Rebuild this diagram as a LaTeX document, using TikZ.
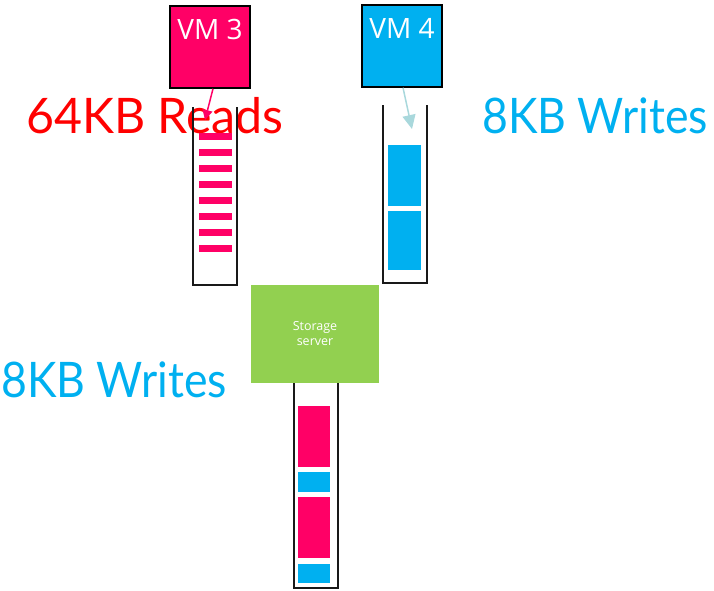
\documentclass[tikz,border=0pt]{standalone}
\usepackage{fontspec}
\setmainfont{Open Sans}
\newfontfamily\labelfont[FakeStretch=0.91]{Lato}
\newfontfamily\widelabelfont[FakeStretch=0.985]{Lato}
\usetikzlibrary{arrows.meta}

\definecolor{vmpink}{HTML}{FF0066}
\definecolor{vmblue}{HTML}{00B0F0}
\definecolor{servergreen}{HTML}{92D050}
\definecolor{readred}{HTML}{FF0000}
\definecolor{arrowteal}{HTML}{A9D8DC}

\def \barHalf {3.5}

\tikzset{
   vmbox/.style={draw=black, line width=1.5pt, minimum width=80pt, minimum height=82pt, inner sep=0pt},
   vmtext/.style={text=white, font=\fontsize{28}{30}\selectfont, anchor=base, inner sep=0pt},
   sizelabel/.style={font=\labelfont\fontsize{49}{52}\selectfont, anchor=base west, inner sep=0pt},
   queue/.style={draw=black!90, line width=2pt},
}

\begin{document}
\begin{tikzpicture}[x=1pt, y=-1pt]
   \useasboundingbox (0,0) rectangle (714,590);

   % request sizes
   \node[sizelabel, text=readred, font=\widelabelfont\fontsize{49}{52}\selectfont] (readlbl) at (26,133) {64KB Reads};
   \node[sizelabel, text=vmblue] (writelbl) at (482,133) {8KB Writes};
   \node[sizelabel, text=vmblue] (serverlbl) at (1,397) {8KB Writes};

   % virtual machines
   \node[vmbox, fill=vmpink] (vm3) at (210,47) {};
   \node[vmtext] (vm3txt) at (210,39) {VM 3};
   \node[vmbox, fill=vmblue] (vm4) at (402,46) {};
   \node[vmtext] (vm4txt) at (402,38) {VM 4};

   % queue of VM 3
   \draw[queue] (193,107) -- (193,285) -- (237,285) -- (237,107);
   \foreach \y in {136,152,...,248}
      \fill[vmpink] (199,\y-\barHalf) rectangle (232,\y+\barHalf);

   % queue of VM 4
   \draw[queue] (383,105) -- (383,283) -- (427,283) -- (427,105);
   \fill[vmblue] (388,145) rectangle (421,206);
   \fill[vmblue] (388,211) rectangle (421,270);

   % storage server
   \node[fill=servergreen, minimum width=128pt, minimum height=98pt, inner sep=0pt,
         text=white, align=center, font=\fontsize{12.5}{15}\selectfont] (server) at (315,334) {Storage\\server};

   % queue at the server
   \draw[queue] (294,383) -- (294,588) -- (338,588) -- (338,383);
   \fill[vmpink] (298,406) rectangle (330,467);
   \fill[vmblue] (298,472) rectangle (330,492);
   \fill[vmpink] (298,497) rectangle (330,558);
   \fill[vmblue] (298,564) rectangle (330,583);

   % requests entering the queues
   \coordinate (q3in) at (205,120);
   \coordinate (q4in) at (412,129);
   \draw[vmpink, line width=1.5pt, -{Triangle[length=10pt, width=10pt]}] ([xshift=3pt]vm3.south) -- (q3in);
   \draw[arrowteal, line width=1.5pt, -{Triangle[length=14pt, width=13pt]}] ([xshift=1pt]vm4.south) -- (q4in);
\end{tikzpicture}
\end{document}
